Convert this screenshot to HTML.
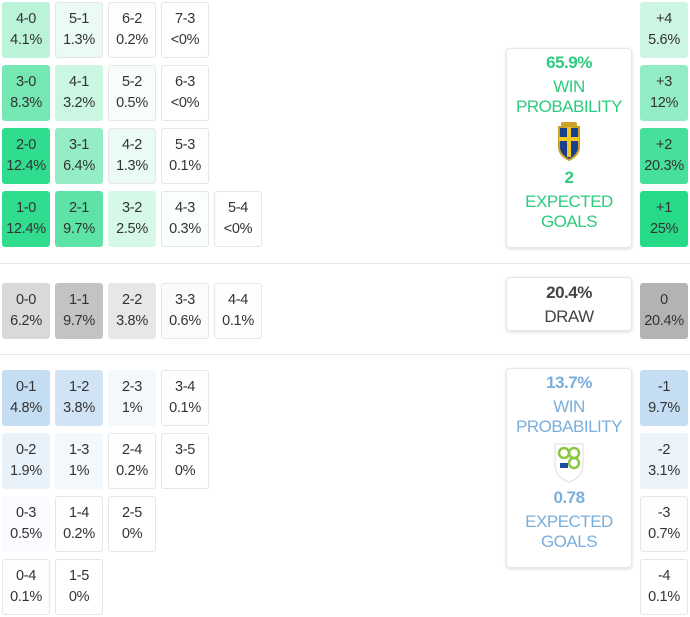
<!DOCTYPE html>
<html><head><meta charset="utf-8">
<style>
body{margin:0;width:690px;height:617px;background:#fff;position:relative;overflow:hidden;font-family:"Liberation Sans",sans-serif;}
.c{position:absolute;width:46px;border:1px solid #e6e6e6;border-radius:3px;box-sizing:content-box;text-align:center;color:#333;font-size:14.5px;line-height:21px;padding-top:6px;height:48px;letter-spacing:-0.3px}
.box{position:absolute;left:506px;width:124px;background:#fff;border:1px solid #e8e8e8;border-radius:4px;box-shadow:0 1px 3px rgba(0,0,0,.15);text-align:center;font-size:17px;line-height:20px;letter-spacing:-0.5px}
.hr{position:absolute;left:0;width:690px;height:1px;background:#e6e6e6}
</style></head><body>
<div class="hr" style="top:263px"></div>
<div class="hr" style="top:354px"></div>

<div class="box" style="top:48px;height:198px;color:#2ccb7d">
<div style="margin-top:4px;font-weight:bold">65.9%</div>
<div style="margin-top:4px">WIN<br>PROBABILITY</div>
<svg width="26" height="40" viewBox="0 0 26 40" style="margin-top:4px"><path d="M3 6 L23 6 L23 26 Q23 34 13 39 Q3 34 3 26Z" fill="#1b3f8f" stroke="#c9a227" stroke-width="2"/><rect x="11" y="6" width="4" height="30" fill="#f2c81e"/><rect x="3" y="16" width="20" height="4" fill="#f2c81e"/><rect x="5" y="1" width="16" height="5" rx="2" fill="#c9a227"/></svg>
<div style="margin-top:2px;font-weight:bold">2</div>
<div style="margin-top:4px">EXPECTED<br>GOALS</div>
</div>
<div class="box" style="top:277px;height:52px;color:#444">
<div style="margin-top:5px;font-weight:bold">20.4%</div>
<div style="margin-top:4px">DRAW</div>
</div>
<div class="box" style="top:368px;height:198px;color:#7aaedb">
<div style="margin-top:4px;font-weight:bold">13.7%</div>
<div style="margin-top:4px">WIN<br>PROBABILITY</div>
<svg width="32" height="42" viewBox="0 0 32 42" style="margin-top:4px"><path d="M2 3 L30 3 L30 24 Q30 36 16 41 Q2 36 2 24Z" fill="#fff" stroke="#ddd"/><circle cx="11" cy="12" r="5" fill="none" stroke="#8cc63f" stroke-width="2.5"/><circle cx="21" cy="12" r="5" fill="none" stroke="#8cc63f" stroke-width="2.5"/><circle cx="21" cy="22" r="5" fill="none" stroke="#8cc63f" stroke-width="2.5"/><rect x="7" y="19" width="8" height="8" fill="#1d4fa0"/><rect x="7" y="19" width="8" height="3" fill="#fff"/></svg>
<div style="margin-top:0px;font-weight:bold">0.78</div>
<div style="margin-top:4px">EXPECTED<br>GOALS</div>
</div>

<script>
const homeScores=[["4-0","5-1","6-2","7-3"],["3-0","4-1","5-2","6-3"],["2-0","3-1","4-2","5-3"],["1-0","2-1","3-2","4-3","5-4"]];
const homeValues=[["4.1%","1.3%","0.2%","<0%"],["8.3%","3.2%","0.5%","<0%"],["12.4%","6.4%","1.3%","0.1%"],["12.4%","9.7%","2.5%","0.3%","<0%"]];
const drawScores=[["0-0","1-1","2-2","3-3","4-4"]];
const drawValues=[["6.2%","9.7%","3.8%","0.6%","0.1%"]];
const awayScores=[["0-1","1-2","2-3","3-4"],["0-2","1-3","2-4","3-5"],["0-3","1-4","2-5"],["0-4","1-5"]];
const awayValues=[["4.8%","3.8%","1%","0.1%"],["1.9%","1%","0.2%","0%"],["0.5%","0.2%","0%"],["0.1%","0%"]];
const homeMargins=["+4","+3","+2","+1"];
const homeMarginValues=["5.6%","12%","20.3%","25%"];
const drawMargin=["0"];
const drawMarginValues=["20.4%"];
const awayMargins=["-1","-2","-3","-4"];
const awayMarginValues=["9.7%","3.1%","0.7%","0.1%"];

function mix(rgb,t){t=Math.max(0,Math.min(1,t));return 'rgb('+rgb.map(c=>Math.round(255+(c-255)*t)).join(',')+')';}
const GREEN=[38,218,136],GRAY=[195,195,195],BLUE=[196,221,243];
function num(s){const n=parseFloat(s.replace('<',''));return isNaN(n)?0:n;}
function cell(x,y,label,s,col,t,name){
  const d=document.createElement('div');
  d.className='c';
  d.style.left=x+'px';d.style.top=y+'px';
  d.style.background=mix(col,t);
  if(t>0.1)d.style.borderColor='transparent';
  
  
  d.textContent=label;
  d.appendChild(document.createElement('br'));
  d.appendChild(document.createTextNode(s));
  document.body.appendChild(d);
}
function grid(scores,vals,top,col,scale){
  scores.forEach((r,i)=>r.forEach((s,j)=>{
    cell(2+j*53,top+i*63,s,vals[i][j],col,num(vals[i][j])/scale,'score-cell-'+s);
  }));
}
grid(homeScores,homeValues,2,GREEN,13);
grid(drawScores,drawValues,283,GRAY,9.7);
grid(awayScores,awayValues,370,BLUE,4.8);
homeMargins.forEach((m,i)=>cell(640,2+i*63,m,homeMarginValues[i],GREEN,num(homeMarginValues[i])/24,'margin-cell-'+m));
drawMargin.forEach((m,i)=>cell(640,283,m,drawMarginValues[i],[165,165,165],0.85,'margin-cell-draw'));
awayMargins.forEach((m,i)=>cell(640,370+i*63,m,awayMarginValues[i],BLUE,num(awayMarginValues[i])/9.7,'margin-cell-'+m));
</script>
</body></html>
